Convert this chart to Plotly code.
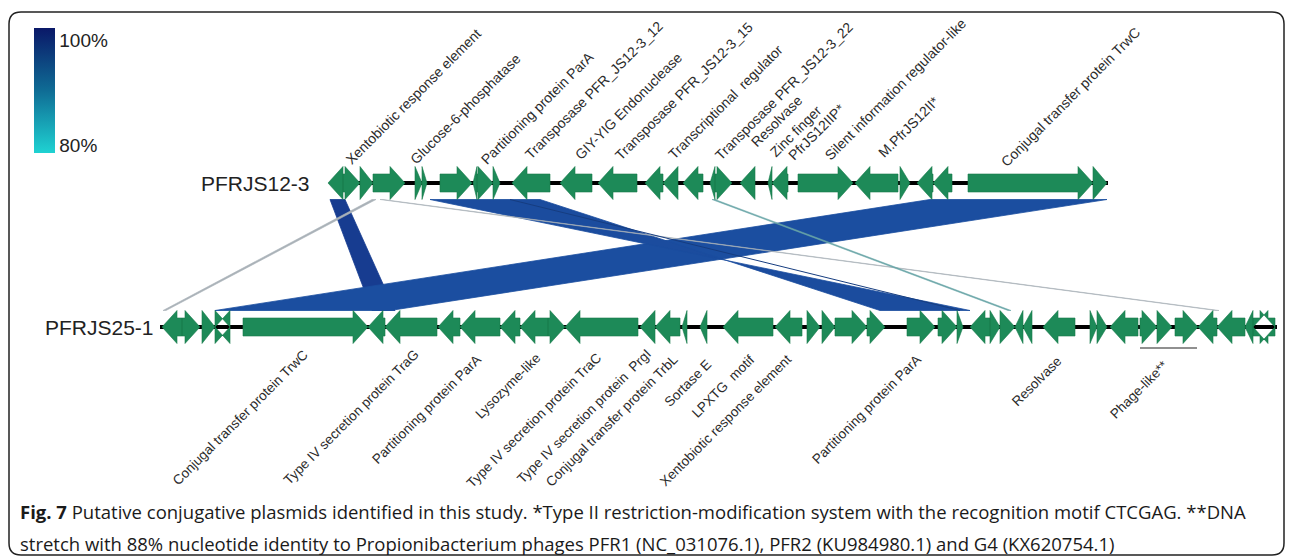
import plotly.graph_objects as go

# ---------------------------------------------------------------- data
# Genes on each plasmid: start, end (map units), strand
top_name = "PFRJS12-3"
top_genes = [
    (328, 343, -1), (343, 360, 1), (360, 373, 1), (373, 405, 1),
    (415, 422, 1), (422, 427, 1), (440, 472, 1), (473, 477, -1),
    (477, 493, 1), (493, 500, 1), (512, 550, -1), (560, 592, -1),
    (598, 637, -1), (645, 663, -1), (663, 678, -1), (683, 703, -1),
    (710, 715, -1), (715, 732, 1), (740, 755, -1), (768, 772, -1),
    (772, 788, -1), (798, 853, 1), (855, 898, -1), (900, 910, 1),
    (917, 933, -1), (933, 952, -1), (968, 1093, 1), (1093, 1107, 1),
]
top_span = (330, 1108)

bot_name = "PFRJS25-1"
bot_genes = [
    (162, 182, -1), (182, 200, 1), (202, 215, 1), (215, 230, 1),
    (215, 230, -1), (243, 368, 1), (368, 385, -1), (385, 437, -1),
    (438, 460, -1), (460, 500, -1), (500, 520, -1), (520, 548, -1),
    (548, 565, 1), (565, 638, -1), (640, 655, -1), (655, 680, -1),
    (682, 687, -1), (700, 707, -1), (723, 773, -1), (775, 802, -1),
    (807, 820, 1), (822, 835, 1), (835, 867, 1), (867, 885, 1),
    (907, 935, 1), (938, 957, 1), (957, 963, 1), (970, 990, -1),
    (990, 1000, 1), (1000, 1015, 1), (1015, 1023, -1), (1023, 1032, -1),
    (1043, 1075, -1), (1090, 1097, 1), (1097, 1107, 1), (1110, 1138, -1),
    (1140, 1157, 1), (1157, 1172, 1), (1175, 1198, 1), (1198, 1217, -1),
    (1217, 1245, -1), (1245, 1253, -1), (1253, 1275, -1), (1253, 1275, 1),
]
bot_span = (160, 1277)

# BLAST hits between the plasmids: top start/end, bottom start/end, identity (%)
hit_top_start = [330, 930, 430, 372, 380, 712]
hit_top_end   = [345, 1107, 540, 376, 383, 715]
hit_bot_start = [372, 215, 970, 163, 1216, 1008]
hit_bot_end   = [395, 390, 880, 166, 1219, 1011]
hit_identity  = [99.5, 95.5, 96.0, 81.0, 80.5, 86.0]

top_labels = [
    "Xentobiotic response element", "Glucose-6-phosphatase",
    "Partitioning protein ParA", "Transposase PFR_JS12-3_12",
    "GIY-YIG Endonuclease", "Transposase PFR_JS12-3_15",
    "Transcriptional  regulator", "Transposase PFR_JS12-3_22",
    "Resolvase", "Zinc finger", "PfrJS12IIP*",
    "Silent information regulator-like", "M.PfrJS12II*",
    "Conjugal transfer protein TrwC",
]
bot_labels = [
    "Conjugal transfer protein TrwC", "Type IV secretion protein TraG",
    "Partitioning protein ParA", "Lysozyme-like",
    "Type IV secretion protein TraC", "Type IV secretion protein  PrgI",
    "Conjugal transfer protein TrbL", "Sortase E", "LPXTG  motif",
    "Xentobiotic response element", "Partitioning protein ParA",
    "Resolvase", "Phage-like**",
]
phage_region = (1140, 1197)

identity_ticks = [80, 100]
identity_ticktext = ["80%", "100%"]

caption_1 = ("<b>Fig. 7</b> Putative conjugative plasmids identified in this study. "
             "*Type II restriction-modification system with the recognition motif CTCGAG. **DNA")
caption_2 = ("stretch with 88% nucleotide identity to Propionibacterium phages PFR1 "
             "(NC_031076.1), PFR2 (KU984980.1) and G4 (KX620754.1)")

# ---------------------------------------------------------------- layout constants
W, H = 1292, 557
TOP_Y, BOT_Y = 183, 327
HEAD_HALF, BODY_HALF, HEAD_LEN = 16.5, 9, 15
GENE_GREEN = "#1d8a58"
LABEL_FONT = dict(family="Liberation Sans, Arial, sans-serif", size=14, color="#2b2b2b")
BOT_LABEL_FONT = dict(family="Liberation Sans, Arial, sans-serif", size=13.6, color="#2b2b2b")

# label anchor positions (glyph start for top labels, glyph end for bottom labels)
top_label_pos = [(348, 167), (412, 167), (483, 167), (527, 162), (577, 162),
                 (617, 163), (670, 162), (717, 163), (753, 150), (772, 160),
                 (790, 163), (827, 163), (880, 160), (1003, 170)]
bot_label_pos = [(307, 350), (417, 350), (480, 355), (540, 353), (600, 353),
                 (650, 350), (677, 355), (710, 360), (753, 355), (790, 355),
                 (920, 355), (1060, 357), (1167, 360)]

# identity colour bar: cyan at 80 %, navy at 100 %
bar_scale = [[0.0, "#1fd2d2"], [0.5, "#0f6c95"], [1.0, "#0a1868"]]
# colour ramp used for the hit polygons
id_scale = [[0.0, "#20cccc"], [0.45, "#1488b0"], [0.75, "#1c50a2"], [1.0, "#163a8e"]]


def lerp_hex(c1, c2, t):
    a = [int(c1[i:i + 2], 16) for i in (1, 3, 5)]
    b = [int(c2[i:i + 2], 16) for i in (1, 3, 5)]
    return "#" + "".join(f"{round(a[k] + (b[k] - a[k]) * t):02x}" for k in range(3))


def identity_color(p):
    t = min(max((p - 80) / 20.0, 0), 1)
    for (t0, c0), (t1, c1) in zip(id_scale[:-1], id_scale[1:]):
        if t <= t1:
            return lerp_hex(c0, c1, (t - t0) / (t1 - t0))
    return id_scale[-1][1]


def arrow(start, end, strand, yc):
    """Polygon of a gene arrow."""
    length = end - start
    h = min(HEAD_LEN, length)
    if strand > 0:
        b = end - h
        xs = [start, b, b, end, b, b, start, start]
    else:
        b = start + h
        xs = [end, b, b, start, b, b, end, end]
    ys = [yc - BODY_HALF, yc - BODY_HALF, yc - HEAD_HALF, yc,
          yc + HEAD_HALF, yc + BODY_HALF, yc + BODY_HALF, yc - BODY_HALF]
    if h >= length:  # pure triangle
        if strand > 0:
            xs = [start, end, start, start]
        else:
            xs = [end, start, end, end]
        ys = [yc - HEAD_HALF, yc, yc + HEAD_HALF, yc - HEAD_HALF]
    return xs, ys


fig = go.Figure()

# homology links
y_link_top, y_link_bot = TOP_Y + HEAD_HALF, BOT_Y - HEAD_HALF
for ts, te, bs, be, p in zip(hit_top_start, hit_top_end, hit_bot_start, hit_bot_end, hit_identity):
    col = identity_color(p)
    width = 0.8
    if p < 90:
        col = "#aab2b8" if p < 85 else "#6aa6a8"
        width = 0.6
    fig.add_trace(go.Scatter(
        x=[ts, te, be, bs, ts], y=[y_link_top, y_link_top, y_link_bot, y_link_bot, y_link_top],
        mode="lines", fill="toself", fillcolor=col,
        line=dict(color=col, width=width), hoverinfo="skip", showlegend=False))

# thin seam inside the inverted hit
fig.add_trace(go.Scatter(x=[hit_top_start[2] + 80, hit_bot_start[2] - 10],
                         y=[y_link_top, y_link_bot], mode="lines",
                         line=dict(color="#163d80", width=1), hoverinfo="skip", showlegend=False))

# backbones and genes
for span, genes, yc in ((top_span, top_genes, TOP_Y), (bot_span, bot_genes, BOT_Y)):
    fig.add_trace(go.Scatter(x=list(span), y=[yc, yc], mode="lines",
                             line=dict(color="black", width=4), hoverinfo="skip", showlegend=False))
    gx, gy = [], []
    for s, e, st in genes:
        xs, ys = arrow(s, e, st, yc)
        gx += xs + [None]
        gy += ys + [None]
    fig.add_trace(go.Scatter(x=gx, y=gy, mode="lines", fill="toself", fillcolor=GENE_GREEN,
                             line=dict(color="#187a4c", width=0.6), hoverinfo="skip",
                             showlegend=False))

# phage-like stretch underline
fig.add_trace(go.Scatter(x=list(phage_region), y=[BOT_Y + 21, BOT_Y + 21], mode="lines",
                         line=dict(color="#222", width=1.2), hoverinfo="skip", showlegend=False))

# identity colour bar
fig.add_trace(go.Scatter(
    x=[-50], y=[-50], mode="markers", hoverinfo="skip", showlegend=False,
    marker=dict(color=[90], cmin=78.5, cmax=102.3, colorscale=bar_scale, showscale=True,
                colorbar=dict(x=34 / W, xanchor="left", y=1 - 28 / H, yanchor="top",
                              len=125, lenmode="pixels", thickness=21, thicknessmode="pixels",
                              outlinewidth=0, ticks="", tickvals=identity_ticks,
                              ticktext=identity_ticktext, xpad=0, ypad=0,
                              tickfont=dict(family="Liberation Sans, Arial", size=19, color="#222")))))

annotations = []
# plasmid names
annotations.append(dict(x=312, y=TOP_Y, text=top_name, xanchor="right", yanchor="middle",
                        showarrow=False, font=dict(family="Liberation Sans, Arial", size=21, color="#222")))
annotations.append(dict(x=156, y=BOT_Y, text=bot_name, xanchor="right", yanchor="middle",
                        showarrow=False, font=dict(family="Liberation Sans, Arial", size=21, color="#222")))

for txt, (x, y) in zip(top_labels, top_label_pos):
    annotations.append(dict(x=x - 8, y=y + 3, text=txt, textangle=-45, xanchor="left",
                            yanchor="bottom", showarrow=False, font=LABEL_FONT))
for txt, (x, y) in zip(bot_labels, bot_label_pos):
    annotations.append(dict(x=x + 7, y=y - 6, text=txt, textangle=-45, xanchor="right",
                            yanchor="top", showarrow=False, font=BOT_LABEL_FONT))

cap_font = dict(family="Open Sans, sans-serif", size=18.5, color="#1a1a1a")
annotations.append(dict(x=18, y=511, text=caption_1, xanchor="left", yanchor="middle",
                        showarrow=False, font=cap_font))
annotations.append(dict(x=18, y=543, text=caption_2, xanchor="left", yanchor="middle",
                        showarrow=False, font=cap_font))

frame = ("M 9,24 Q 9,12 21,12 L 1272,12 Q 1284,12 1284,24 "
         "L 1284,543 Q 1284,555 1272,555 L 21,555 Q 9,555 9,543 Z")

fig.update_layout(
    width=W, height=H, margin=dict(l=0, r=0, t=0, b=0),
    paper_bgcolor="white", plot_bgcolor="white",
    xaxis=dict(range=[0, W], visible=False, fixedrange=True),
    yaxis=dict(range=[H, 0], visible=False, fixedrange=True),
    annotations=annotations,
    shapes=[dict(type="path", path=frame, xref="x", yref="y",
                 line=dict(color="#222", width=1.5), layer="below")],
)

fig.write_html("out.html")
